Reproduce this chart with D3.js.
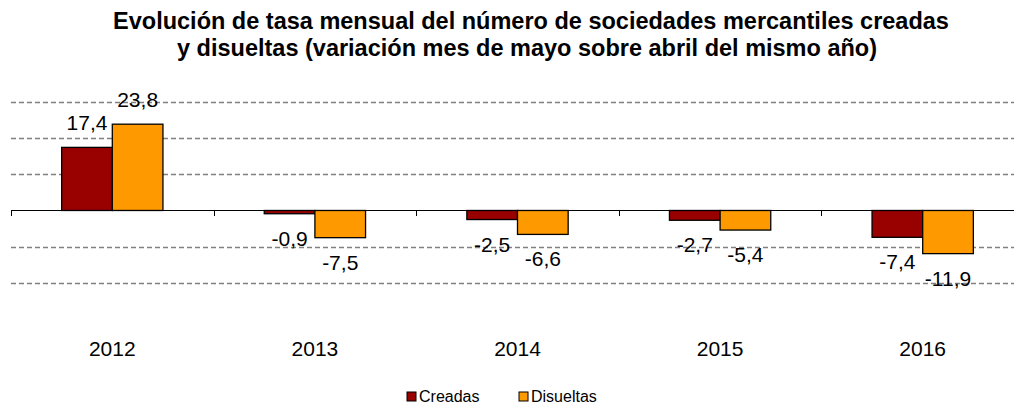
<!DOCTYPE html>
<html>
<head>
<meta charset="utf-8">
<script src="https://cdn.jsdelivr.net/npm/d3@7"></script>
<style>
  body { margin: 0; background: #fff; }
  text { font-family: "Liberation Sans", Arial, sans-serif; fill: #000; }
</style>
</head>
<body>
<svg id="chart" width="1014" height="405"></svg>
<script>
// datos
var years = ["2012", "2013", "2014", "2015", "2016"];
var creadas = [17.4, -0.9, -2.5, -2.7, -7.4];
var disueltas = [23.8, -7.5, -6.6, -5.4, -11.9];
var seriesNames = ["Creadas", "Disueltas"];
var gridTicks = [30, 20, 10, -10, -20];

var colors = ["#990000", "#FF9900"];

var svg = d3.select("#chart");

var x = d3.scaleBand()
    .domain(years)
    .range([11, 1024])
    .paddingInner(0)
    .paddingOuter(0);

var y = d3.scaleLinear()
    .domain([-20, 30])
    .range([283, 101.7]);

var xInner = d3.scaleBand()
    .domain(seriesNames)
    .range([0, x.bandwidth()])
    .paddingInner(0)
    .paddingOuter(1);

// titulo
svg.append("text")
    .attr("x", 531).attr("y", 29)
    .attr("text-anchor", "middle")
    .style("font-size", "23.5px").style("font-weight", "bold")
    .text("Evolución de tasa mensual del número de sociedades mercantiles creadas");
svg.append("text")
    .attr("x", 527).attr("y", 56)
    .attr("text-anchor", "middle")
    .style("font-size", "23.5px").style("font-weight", "bold")
    .text("y disueltas (variación mes de mayo sobre abril del mismo año)");

// lineas de division
svg.append("g").selectAll("line")
    .data(gridTicks)
    .enter().append("line")
    .attr("x1", 11).attr("x2", 1014)
    .attr("y1", function(d) { return Math.round(y(d)) + 0.5; })
    .attr("y2", function(d) { return Math.round(y(d)) + 0.5; })
    .attr("stroke", "#808080")
    .attr("stroke-width", 1.5)
    .attr("stroke-dasharray", "5,3");

var rows = years.map(function(d, i) {
    return { year: d, values: [
        { name: "Creadas", value: creadas[i] },
        { name: "Disueltas", value: disueltas[i] }
    ]};
});

var groups = svg.append("g").selectAll("g")
    .data(rows)
    .enter().append("g")
    .attr("transform", function(d) { return "translate(" + x(d.year) + ",0)"; });

groups.selectAll("rect")
    .data(function(d) { return d.values; })
    .enter().append("rect")
    .attr("x", function(d) { return xInner(d.name); })
    .attr("width", xInner.bandwidth())
    .attr("y", function(d) { return Math.min(y(d.value), y(0)); })
    .attr("height", function(d) { return Math.abs(y(d.value) - y(0)); })
    .attr("fill", function(d, i) { return colors[i]; })
    .attr("stroke", "#000")
    .attr("stroke-width", 1.3);

groups.selectAll("text.lbl")
    .data(function(d) { return d.values; })
    .enter().append("text")
    .attr("class", "lbl")
    .attr("x", function(d) { return xInner(d.name) + xInner.bandwidth() / 2; })
    .attr("y", function(d) {
        return d.value >= 0 ? y(d.value) - 17 : y(d.value) + 32;
    })
    .attr("text-anchor", "middle")
    .style("font-size", "21px")
    .text(function(d) { return d3.format(".1f")(d.value).replace(".", ",").replace("−", "-"); });

// eje cero
svg.append("line")
    .attr("x1", 11).attr("x2", 1014)
    .attr("y1", Math.round(y(0)) + 0.5).attr("y2", Math.round(y(0)) + 0.5)
    .attr("stroke", "#000").attr("stroke-width", 1);
svg.append("g").selectAll("line")
    .data(years)
    .enter().append("line")
    .attr("x1", function(d) { return Math.round(x(d)) + 0.5; })
    .attr("x2", function(d) { return Math.round(x(d)) + 0.5; })
    .attr("y1", Math.round(y(0))).attr("y2", Math.round(y(0)) + 6)
    .attr("stroke", "#000").attr("stroke-width", 1);

// etiquetas de categoria
svg.append("g").selectAll("text")
    .data(years)
    .enter().append("text")
    .attr("x", function(d) { return x(d) + x.bandwidth() / 2; })
    .attr("y", 356)
    .attr("text-anchor", "middle")
    .style("font-size", "21px")
    .text(function(d) { return d; });

// leyenda
var legendX = [407, 519];
var legend = svg.append("g").selectAll("g")
    .data(seriesNames)
    .enter().append("g")
    .attr("transform", function(d, i) { return "translate(" + legendX[i] + ",392)"; });
legend.append("rect")
    .attr("width", 9).attr("height", 9)
    .attr("fill", function(d, i) { return colors[i]; })
    .attr("stroke", "#000").attr("stroke-width", 1);
legend.append("text")
    .attr("x", 12).attr("y", 10)
    .style("font-size", "16px")
    .text(function(d) { return d; });
</script>
</body>
</html>
